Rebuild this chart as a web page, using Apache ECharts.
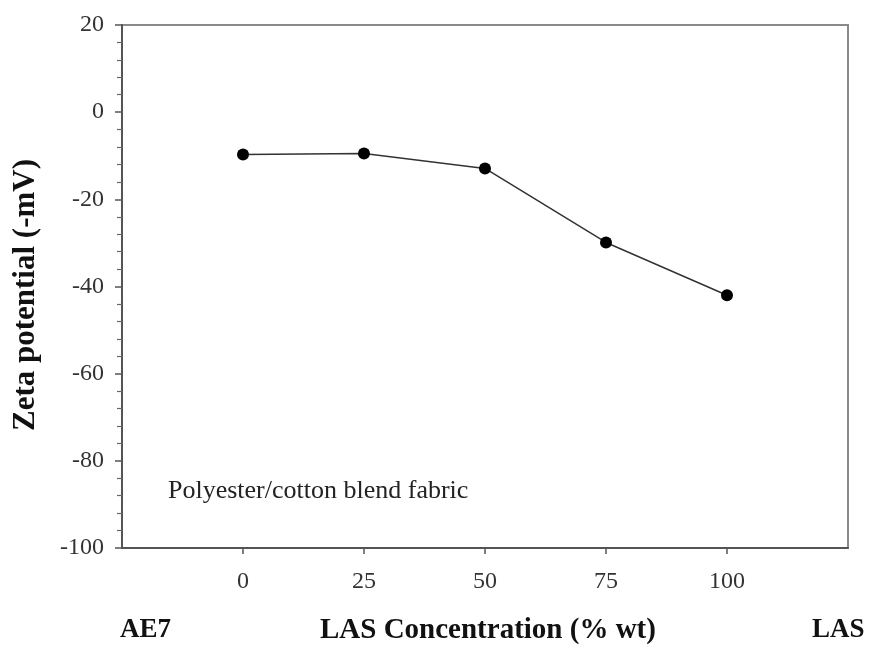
<!DOCTYPE html>
<html><head><meta charset="utf-8">
<script src="https://cdn.jsdelivr.net/npm/echarts@6/dist/echarts.min.js"></script>
<style>html,body{margin:0;padding:0;background:#fff}#c{width:869px;height:645px}</style>
</head><body><div id="c"></div>
<script>
const concentrations = [0, 25, 50, 75, 100];
const zetaValues = [-9.7, -9.5, -12.9, -29.9, -42.0];
const xTickLabels = ['0', '25', '50', '75', '100'];
const yTickValues = [20, 0, -20, -40, -60, -80, -100];

const serif = '"Liberation Serif", "Times New Roman", serif';
const chart = echarts.init(document.getElementById('c'), null, {renderer: 'canvas'});
chart.setOption({
  animation: false,
  backgroundColor: '#fff',
  grid: {left: 122, right: 21, top: 25, bottom: 97, outerBoundsMode: 'none', containLabel: false,
    show: true, borderColor: '#8a8a8a', borderWidth: 2, backgroundColor: 'transparent'},
  xAxis: {
    type: 'value', min: -25, max: 125, interval: 25,
    axisLine: {show: true, onZero: false, lineStyle: {color: '#555', width: 2}},
    axisTick: {show: true, inside: false, length: 6, lineStyle: {color: '#555', width: 1.5},
      customValues: concentrations},
    axisLabel: {fontFamily: serif, fontSize: 24, color: '#333', margin: 22,
      customValues: concentrations,
      formatter: v => xTickLabels[concentrations.indexOf(v)] ?? ''},
    splitLine: {show: false}
  },
  yAxis: {
    type: 'value', min: -100, max: 20, interval: 20,
    axisLine: {show: true, onZero: false, lineStyle: {color: '#555', width: 2}},
    axisTick: {show: true, length: 7, lineStyle: {color: '#555', width: 1.5}},
    minorTick: {show: true, splitNumber: 5, length: 5, lineStyle: {color: '#666', width: 1.2}},
    axisLabel: {fontFamily: serif, fontSize: 24, color: '#333', margin: 18,
      formatter: v => yTickValues.includes(v) ? String(v) : ''},
    splitLine: {show: false}
  },
  series: [{
    type: 'line',
    data: concentrations.map((c, i) => [c, zetaValues[i]]),
    symbol: 'circle', symbolSize: 12,
    itemStyle: {color: '#000'},
    lineStyle: {color: '#333', width: 1.5}
  }],
  graphic: [
    {type: 'text', x: 26, y: 295, rotation: Math.PI / 2,
      style: {text: 'Zeta potential (-mV)', font: 'bold 31px ' + serif, fill: '#111', align: 'center', verticalAlign: 'middle'}},
    {type: 'text', left: 168, top: 478, style: {text: 'Polyester/cotton blend fabric', font: '26px ' + serif, fill: '#222'}},
    {type: 'text', left: 120, top: 617, style: {text: 'AE7', font: 'bold 27px ' + serif, fill: '#111'}},
    {type: 'text', left: 320, top: 616, style: {text: 'LAS Concentration (% wt)', font: 'bold 29px ' + serif, fill: '#111'}},
    {type: 'text', left: 812, top: 617, style: {text: 'LAS', font: 'bold 27px ' + serif, fill: '#111'}}
  ]
});
</script></body></html>
